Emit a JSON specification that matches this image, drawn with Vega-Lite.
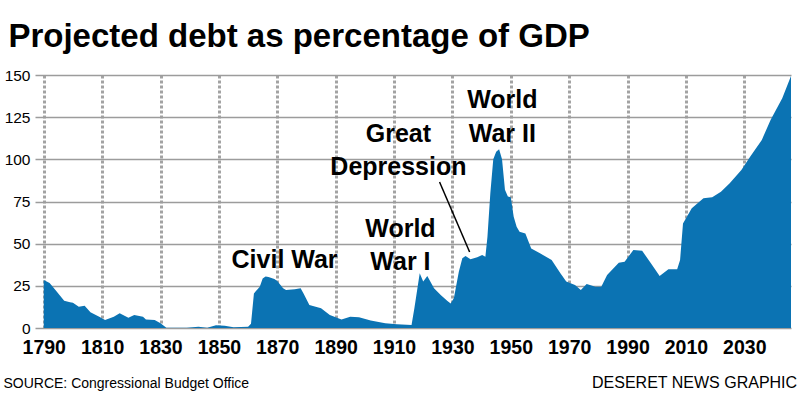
{
  "$schema": "https://vega.github.io/schema/vega-lite/v6.json",
  "width": 756,
  "height": 253,
  "autosize": {"type": "none"},
  "padding": {"left": 35, "top": 75, "right": 9, "bottom": 65},
  "background": "white",
  "config": {
    "view": {"stroke": null},
    "axis": {"labelFont": "Liberation Sans", "labelColor": "#000000", "ticks": false, "domain": false, "title": null}
  },
  "datasets": {
    "debt": [
      {"year": 1790, "debt": 28.5}, {"year": 1792, "debt": 26.7}, {"year": 1794, "debt": 22.5},
      {"year": 1797, "debt": 16.2}, {"year": 1799, "debt": 15.2}, {"year": 1800, "debt": 15.0},
      {"year": 1802, "debt": 12.6}, {"year": 1804, "debt": 13.2}, {"year": 1806, "debt": 9.3},
      {"year": 1809, "debt": 6.7}, {"year": 1811, "debt": 4.7}, {"year": 1814, "debt": 6.7},
      {"year": 1816, "debt": 8.7}, {"year": 1819, "debt": 6.1}, {"year": 1821, "debt": 7.7},
      {"year": 1824, "debt": 6.7}, {"year": 1825, "debt": 5.1}, {"year": 1828, "debt": 4.7},
      {"year": 1830, "debt": 2.8}, {"year": 1832, "debt": 0.2}, {"year": 1839, "debt": 0.1},
      {"year": 1843, "debt": 0.7}, {"year": 1846, "debt": 0.2}, {"year": 1849, "debt": 1.6},
      {"year": 1852, "debt": 1.4}, {"year": 1855, "debt": 0.5}, {"year": 1860, "debt": 0.7},
      {"year": 1861, "debt": 2.5}, {"year": 1862, "debt": 20.5}, {"year": 1864, "debt": 24.5},
      {"year": 1865, "debt": 29.4}, {"year": 1866, "debt": 30.5}, {"year": 1867, "debt": 30.2},
      {"year": 1869, "debt": 29.0}, {"year": 1870, "debt": 27.8}, {"year": 1872, "debt": 23.5},
      {"year": 1873, "debt": 22.5}, {"year": 1876, "debt": 23.0}, {"year": 1878, "debt": 23.5},
      {"year": 1879, "debt": 20.5}, {"year": 1881, "debt": 13.6}, {"year": 1885, "debt": 11.7},
      {"year": 1888, "debt": 7.7}, {"year": 1892, "debt": 5.1}, {"year": 1895, "debt": 6.7},
      {"year": 1898, "debt": 6.3}, {"year": 1902, "debt": 4.4}, {"year": 1907, "debt": 2.8},
      {"year": 1911, "debt": 2.2}, {"year": 1916, "debt": 1.8}, {"year": 1917, "debt": 12.0},
      {"year": 1918.8, "debt": 32.4}, {"year": 1920, "debt": 27.5}, {"year": 1921.4, "debt": 30.8},
      {"year": 1923.7, "debt": 23.5}, {"year": 1926, "debt": 19.6}, {"year": 1928.3, "debt": 16.0},
      {"year": 1929.4, "debt": 14.6}, {"year": 1930.5, "debt": 17.6}, {"year": 1932.2, "debt": 33.4},
      {"year": 1933.4, "debt": 41.3}, {"year": 1934.5, "debt": 42.7}, {"year": 1936.2, "debt": 40.7},
      {"year": 1938.5, "debt": 41.9}, {"year": 1940.2, "debt": 43.3}, {"year": 1941.3, "debt": 42.3},
      {"year": 1942, "debt": 54.0}, {"year": 1943, "debt": 80.0}, {"year": 1944, "debt": 100.0},
      {"year": 1945, "debt": 104.5}, {"year": 1946, "debt": 106.0}, {"year": 1947, "debt": 100.0},
      {"year": 1948, "debt": 82.0}, {"year": 1949, "debt": 78.0}, {"year": 1950, "debt": 77.5},
      {"year": 1951, "debt": 66.0}, {"year": 1952, "debt": 60.0}, {"year": 1953, "debt": 57.0},
      {"year": 1955, "debt": 56.0}, {"year": 1957, "debt": 47.2}, {"year": 1960, "debt": 44.3},
      {"year": 1964, "debt": 40.3}, {"year": 1967, "debt": 32.5}, {"year": 1969, "debt": 27.5},
      {"year": 1972, "debt": 25.5}, {"year": 1974, "debt": 22.5}, {"year": 1976, "debt": 26.1},
      {"year": 1979, "debt": 24.5}, {"year": 1981, "debt": 24.5}, {"year": 1983, "debt": 31.4},
      {"year": 1987, "debt": 38.7}, {"year": 1989, "debt": 39.3}, {"year": 1992, "debt": 46.2},
      {"year": 1995, "debt": 45.8}, {"year": 1998, "debt": 38.4}, {"year": 2001, "debt": 30.8},
      {"year": 2004, "debt": 34.8}, {"year": 2007, "debt": 34.8}, {"year": 2008, "debt": 40.3},
      {"year": 2009, "debt": 62.0}, {"year": 2012, "debt": 71.0}, {"year": 2014, "debt": 73.9},
      {"year": 2016, "debt": 76.9}, {"year": 2019, "debt": 77.5}, {"year": 2022, "debt": 80.8},
      {"year": 2025, "debt": 85.8}, {"year": 2029, "debt": 93.7}, {"year": 2032, "debt": 101.6},
      {"year": 2036, "debt": 111.5}, {"year": 2039, "debt": 123.3}, {"year": 2043, "debt": 136.2},
      {"year": 2046, "debt": 149.4}
    ],
    "events": [
      {"label": "Civil War", "year": 1872.5, "debt": 35.6},
      {"label": "World\nWar I", "year": 1912.2, "debt": 54.0},
      {"label": "Great\nDepression", "year": 1911.5, "debt": 110.3},
      {"label": "World\nWar II", "year": 1947.1, "debt": 130.4}
    ],
    "pointer": [
      {"year": 1925.6, "debt": 86.6, "year2": 1935.9, "debt2": 45.1}
    ],
    "one": [{}]
  },
  "layer": [
    {
      "data": {"name": "debt"},
      "mark": {"type": "area", "color": "#0b73b3", "interpolate": "linear"},
      "encoding": {
        "x": {
          "field": "year", "type": "quantitative",
          "scale": {"domain": [1787, 2046], "nice": false, "zero": false},
          "axis": {
            "values": [1790, 1810, 1830, 1850, 1870, 1890, 1910, 1930, 1950, 1970, 1990, 2010, 2030],
            "format": "d",
            "labelFontSize": 19.5,
            "labelFontWeight": "bold",
            "labelPadding": 10,
            "grid": true,
            "gridColor": "#a3a3a3",
            "gridWidth": 3,
            "gridDash": [3, 2]
          }
        },
        "y": {
          "field": "debt", "type": "quantitative",
          "scale": {"domain": [0, 150], "nice": false},
          "axis": {
            "values": [0, 25, 50, 75, 100, 125, 150],
            "labelFontSize": 15.5,
            "labelPadding": 5,
            "grid": true,
            "gridColor": "#9c9c9c",
            "gridWidth": 1.5
          }
        }
      }
    },
    {
      "data": {"name": "pointer"},
      "mark": {"type": "rule", "color": "#000000", "strokeWidth": 1.5},
      "encoding": {
        "x": {"field": "year", "type": "quantitative"},
        "x2": {"field": "year2"},
        "y": {"field": "debt", "type": "quantitative"},
        "y2": {"field": "debt2"}
      }
    },
    {
      "data": {"name": "events"},
      "mark": {
        "type": "text",
        "font": "Liberation Sans",
        "fontWeight": "bold",
        "fontSize": 25,
        "color": "#000000",
        "align": "center",
        "baseline": "alphabetic",
        "lineBreak": "\n",
        "lineHeight": 33.5
      },
      "encoding": {
        "x": {"field": "year", "type": "quantitative"},
        "y": {"field": "debt", "type": "quantitative"},
        "text": {"field": "label"}
      }
    },
    {
      "data": {"name": "one"},
      "mark": {
        "type": "text",
        "font": "Liberation Sans",
        "fontWeight": "bold",
        "fontSize": 33,
        "color": "#000000",
        "align": "left",
        "baseline": "alphabetic",
        "text": "Projected debt as percentage of GDP"
      },
      "encoding": {
        "x": {"datum": 1777.9, "type": "quantitative"},
        "y": {"datum": 166.6, "type": "quantitative"}
      }
    },
    {
      "data": {"name": "one"},
      "mark": {
        "type": "text",
        "font": "Liberation Sans",
        "fontSize": 14,
        "color": "#000000",
        "align": "left",
        "baseline": "alphabetic",
        "text": "SOURCE: Congressional Budget Office"
      },
      "encoding": {
        "x": {"datum": 1776.2, "type": "quantitative"},
        "y": {"datum": -35.6, "type": "quantitative"}
      }
    },
    {
      "data": {"name": "one"},
      "mark": {
        "type": "text",
        "font": "Liberation Sans",
        "fontSize": 16,
        "color": "#000000",
        "align": "right",
        "baseline": "alphabetic",
        "text": "DESERET NEWS GRAPHIC"
      },
      "encoding": {
        "x": {"datum": 2048.1, "type": "quantitative"},
        "y": {"datum": -35.6, "type": "quantitative"}
      }
    }
  ]
}
